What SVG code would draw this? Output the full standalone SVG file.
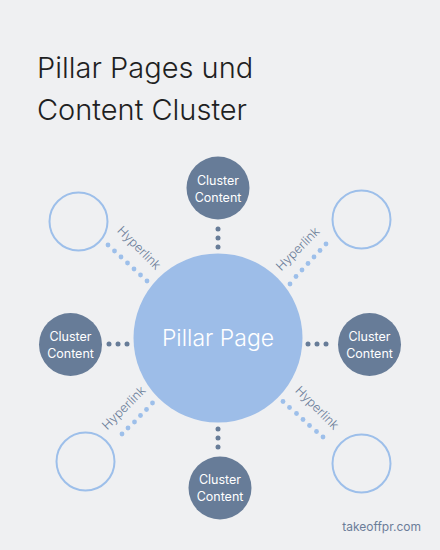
<svg xmlns="http://www.w3.org/2000/svg" width="440" height="550" viewBox="0 0 440 550">
<style>
.title{font-family:Inter,"Noto Sans",sans-serif;font-size:29px;font-weight:300;fill:#1e1f22}
.cc{fill:#677c98}
.cct{font-family:Inter,"Noto Sans",sans-serif;font-size:12.5px;fill:#ffffff;text-anchor:middle}
.ring{fill:none;stroke:#9dbfea;stroke-width:2}
.hl{font-family:Inter,"Noto Sans",sans-serif;font-size:12.5px;font-weight:300;fill:#6b7d99;text-anchor:middle}
.dd{fill:#677c98}
.ld{fill:#9dbfea}
</style>
<rect width="440" height="550" fill="#eff0f2"/>
<g id="title">
<text class="title" x="37" y="78">Pillar Pages und</text>
<text class="title" x="37" y="120">Content Cluster</text>
</g>
<g id="connectors">
<g class="dd">
<circle cx="218" cy="229" r="2.5"/><circle cx="218" cy="238" r="2.5"/><circle cx="218" cy="247" r="2.5"/>
<circle cx="218" cy="429" r="2.5"/><circle cx="218" cy="438" r="2.5"/><circle cx="218" cy="447" r="2.5"/>
<circle cx="109" cy="344" r="2.5"/><circle cx="118" cy="344" r="2.5"/><circle cx="127" cy="344" r="2.5"/>
<circle cx="308" cy="344" r="2.5"/><circle cx="317" cy="344" r="2.5"/><circle cx="326" cy="344" r="2.5"/>
</g>
<g class="ld">
<circle cx="108" cy="245" r="2.4"/><circle cx="114.5" cy="251" r="2.4"/><circle cx="121" cy="257" r="2.4"/><circle cx="127.5" cy="263" r="2.4"/><circle cx="134" cy="269" r="2.4"/><circle cx="140.5" cy="275" r="2.4"/><circle cx="147" cy="281" r="2.4"/>
<circle cx="326" cy="244" r="2.4"/><circle cx="320" cy="250.5" r="2.4"/><circle cx="314" cy="257" r="2.4"/><circle cx="308" cy="263.5" r="2.4"/><circle cx="302" cy="270" r="2.4"/><circle cx="296" cy="276.5" r="2.4"/><circle cx="290" cy="284" r="2.4"/>
<circle cx="122" cy="434" r="2.4"/><circle cx="128" cy="428" r="2.4"/><circle cx="134.5" cy="422" r="2.4"/><circle cx="140.5" cy="415.5" r="2.4"/><circle cx="146.5" cy="409.5" r="2.4"/><circle cx="152.5" cy="403" r="2.4"/>
<circle cx="283" cy="401.5" r="2.4"/><circle cx="289.5" cy="407.5" r="2.4"/><circle cx="296.5" cy="413.5" r="2.4"/><circle cx="303" cy="419.5" r="2.4"/><circle cx="309.5" cy="425.5" r="2.4"/><circle cx="316.5" cy="431.5" r="2.4"/><circle cx="323" cy="437" r="2.4"/>
</g>
<text class="hl" transform="translate(139,248) rotate(45)" y="4">Hyperlink</text>
<text class="hl" transform="translate(298,249) rotate(-45)" y="4">Hyperlink</text>
<text class="hl" transform="translate(124,408) rotate(-45)" y="4">Hyperlink</text>
<text class="hl" transform="translate(317,408) rotate(45)" y="4">Hyperlink</text>
</g>
<g id="pillar">
<circle cx="218" cy="338" r="84.5" fill="#9dbde8"/>
<text x="218" y="346" font-family="Inter,'Noto Sans',sans-serif" font-size="23" font-weight="300" fill="#ffffff" text-anchor="middle">Pillar Page</text>
</g>
<g id="cluster-top"><circle class="cc" cx="218" cy="188" r="31.5"/><text class="cct" x="218" y="185">Cluster</text><text class="cct" x="218" y="202">Content</text></g>
<g id="cluster-left"><circle class="cc" cx="70.5" cy="344.5" r="31.5"/><text class="cct" x="70.5" y="341">Cluster</text><text class="cct" x="70.5" y="358">Content</text></g>
<g id="cluster-right"><circle class="cc" cx="369.5" cy="344.5" r="31.5"/><text class="cct" x="369.5" y="341">Cluster</text><text class="cct" x="369.5" y="358">Content</text></g>
<g id="cluster-bottom"><circle class="cc" cx="220" cy="488" r="31.5"/><text class="cct" x="220" y="484">Cluster</text><text class="cct" x="220" y="501">Content</text></g>
<g id="ring-tl"><circle class="ring" cx="78.5" cy="221.5" r="29"/></g>
<g id="ring-tr"><circle class="ring" cx="361.5" cy="219.5" r="29"/></g>
<g id="ring-bl"><circle class="ring" cx="85.5" cy="461.5" r="29"/></g>
<g id="ring-br"><circle class="ring" cx="361.5" cy="463.5" r="29"/></g>
<g id="footer"><text x="421" y="531" font-family="Inter,'Noto Sans',sans-serif" font-size="12" fill="#6b7d99" text-anchor="end">takeoffpr.com</text></g>
</svg>
